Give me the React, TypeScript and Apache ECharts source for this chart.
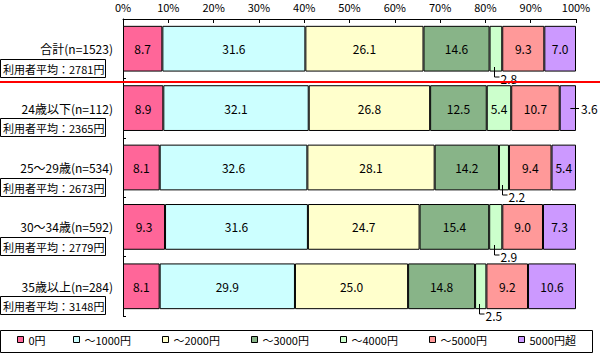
import React, { useEffect, useRef } from "react";
import * as echarts from "echarts";

const categories = ["合計(n=1523)", "24歳以下(n=112)", "25～29歳(n=534)", "30～34歳(n=592)", "35歳以上(n=284)"];
const averages = ["2781", "2365", "2673", "2779", "3148"];
const seriesNames = ["0円", "～1000円", "～2000円", "～3000円", "～4000円", "～5000円", "5000円超"];
const colors = ["#FF6699", "#CCFFFF", "#FFFFCC", "#88B488", "#CCFFCC", "#FF9999", "#CC99FF"];
const v0 = [8.7, 8.9, 8.1, 9.3, 8.1];
const v1000 = [31.6, 32.1, 32.6, 31.6, 29.9];
const v2000 = [26.1, 26.8, 28.1, 24.7, 25.0];
const v3000 = [14.6, 12.5, 14.2, 15.4, 14.8];
const v4000 = [2.8, 5.4, 2.2, 2.9, 2.5];
const v5000 = [9.3, 10.7, 9.4, 9.0, 9.2];
const vOver = [7.0, 3.6, 5.4, 7.3, 10.6];
const seriesValues = [v0, v1000, v2000, v3000, v4000, v5000, vOver];

const FONT = "'Noto Sans CJK JP', 'Noto Sans', sans-serif";
const legendLefts = [17, 73, 162, 251, 340, 429, 518];
const BAR_RATIO = 0.77;
const INSIDE_MIN = 4;

export default function App() {
  const ref = useRef<HTMLDivElement>(null);
  useEffect(() => {
    document.body.style.margin = "0";
    const chart = echarts.init(ref.current!, null, { renderer: "svg" });
    const totals = categories.map((_, i) => seriesValues.reduce((a, s) => a + s[i], 0));
    const norm = seriesValues.map((s) => s.map((v, i) => (v / totals[i]) * 100));

    const series = seriesValues.map((vals, si) => ({
      name: seriesNames[si],
      type: "bar",
      stack: "all",
      barCategoryGap: "23%",
      itemStyle: { color: colors[si], borderColor: "#000", borderWidth: 1 },
      label: {
        show: true,
        position: "inside",
        color: "#000",
        fontSize: 12,
        fontFamily: FONT,
        formatter: (p: any) => p.data.raw.toFixed(1),
      },
      emphasis: { disabled: true },
      data: vals.map((v, i) => ({
        value: norm[si][i],
        raw: v,
        label: { show: v >= INSIDE_MIN },
      })),
    }));

    const legends = seriesNames.map((n, k) => ({
      data: [n],
      left: legendLefts[k],
      top: 334,
      padding: 0,
      itemWidth: 6,
      itemHeight: 6,
      icon: "rect",
      itemStyle: { borderColor: "#000", borderWidth: 1 },
      textStyle: { fontSize: 11, color: "#000", fontFamily: FONT },
      selectedMode: false,
    }));

    chart.setOption({
      animation: false,
      textStyle: { fontFamily: FONT },
      grid: { left: 123, right: 24, top: 19, bottom: 38 },
      xAxis: {
        type: "value",
        position: "top",
        min: 0,
        max: 100,
        interval: 10,
        axisLine: { show: true, lineStyle: { color: "#000", width: 1 } },
        axisTick: { show: true, inside: true, length: 4, lineStyle: { color: "#000" } },
        axisLabel: { formatter: "{value}%", color: "#000", fontSize: 11, margin: 7, fontFamily: FONT },
        splitLine: { show: false },
      },
      yAxis: {
        type: "category",
        inverse: true,
        data: categories,
        axisLine: { show: true, lineStyle: { color: "#000", width: 1 } },
        axisTick: { show: true, inside: true, length: 3, lineStyle: { color: "#000" } },
        axisLabel: { color: "#000", fontSize: 12, margin: 10, fontFamily: FONT },
      },
      legend: legends,
      series,
    });

    const yc = (i: number) => chart.convertToPixel({ yAxisIndex: 0 }, categories[i]) as number;
    const xp = (v: number) => chart.convertToPixel({ xAxisIndex: 0 }, v) as number;
    const band = yc(1) - yc(0);
    const barH = band * BAR_RATIO;
    const g: any[] = [];

    categories.forEach((_, i) => {
      const c = yc(i);
      g.push({
        type: "rect",
        shape: { x: 0.5, y: Math.round(c + 10) + 0.5, width: 105, height: 18 },
        style: { fill: "#fff", stroke: "#000", lineWidth: 1 },
        z: 10,
      });
      g.push({
        type: "text",
        x: 3,
        y: Math.round(c + 10) + 9.5,
        style: {
          text: "利用者平均：" + averages[i] + "円",
          fontSize: 11,
          fontFamily: FONT,
          fill: "#000",
          verticalAlign: "middle",
          align: "left",
        },
        z: 11,
      });
      let cum = 0;
      seriesValues.forEach((s, si) => {
        const n = norm[si][i];
        const mid = cum + n / 2;
        cum += n;
        if (s[i] >= INSIDE_MIN) return;
        const label = s[i].toFixed(1);
        if (si === seriesValues.length - 1) {
          const x1 = xp(mid) + 2.5;
          const x2 = xp(100) + 3;
          const y = Math.round(c) + 0.5;
          g.push({ type: "line", shape: { x1, y1: y, x2, y2: y }, style: { stroke: "#000", lineWidth: 1 }, z: 10 });
          g.push({
            type: "text",
            x: x2 + 2,
            y,
            style: { text: label, fontSize: 12, fontFamily: FONT, fill: "#000", verticalAlign: "middle" },
            z: 10,
          });
        } else {
          const xv = Math.round(xp(mid) - 2) + 0.5;
          const yb = Math.round(c + barH / 2);
          g.push({
            type: "polyline",
            shape: { points: [[xv, yb - 5], [xv, yb + 5], [xv + 5, yb + 5]] },
            style: { stroke: "#000", lineWidth: 1, fill: null },
            z: 10,
          });
          g.push({
            type: "text",
            x: xv + 6,
            y: yb + 6,
            style: { text: label, fontSize: 12, fontFamily: FONT, fill: "#000", verticalAlign: "middle" },
            z: 10,
          });
        }
      });
    });

    const redY = (yc(0) + yc(1)) / 2 + band * 0.06;
    g.push({
      type: "line",
      shape: { x1: 0, y1: redY, x2: 600, y2: redY },
      style: { stroke: "#FF0000", lineWidth: 2 },
      z: 10,
    });
    g.push({
      type: "rect",
      shape: { x: 0.5, y: 330.5, width: 592, height: 22 },
      style: { fill: "none", stroke: "#000", lineWidth: 1 },
      z: 0,
    });

    chart.setOption({ graphic: g });
    return () => chart.dispose();
  }, []);
  return <div ref={ref} style={{ width: 600, height: 354 }} />;
}
